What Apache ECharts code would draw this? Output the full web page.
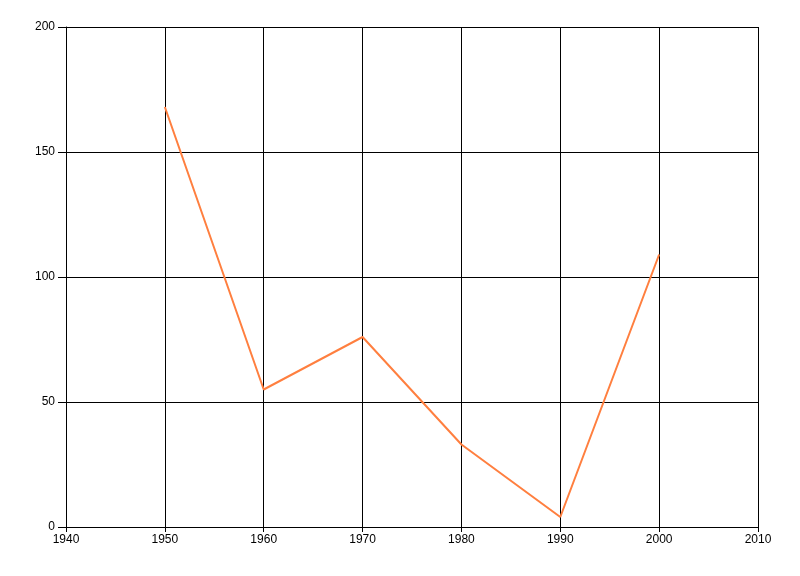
<!DOCTYPE html>
<html>
<head>
<meta charset="utf-8">
<script src="https://cdn.jsdelivr.net/npm/echarts@6/dist/echarts.min.js"></script>
<style>html,body{margin:0;padding:0;background:#fff}#c{width:800px;height:576px}</style>
</head>
<body>
<div id="c"></div>
<script>
var years = [1950, 1960, 1970, 1980, 1990, 2000];
var values = [168, 55, 76, 33, 4, 109];

var chart = echarts.init(document.getElementById('c'));
var font = {fontFamily: 'Liberation Sans, DejaVu Sans, sans-serif', fontSize: 12, color: '#000'};
chart.setOption({
  animation: false,
  grid: {left: 66, right: 42, top: 27, bottom: 49, containLabel: false},
  xAxis: {
    type: 'value', min: 1940, max: 2010, interval: 10,
    axisLine: {show: true, lineStyle: {color: '#000', width: 1}},
    axisTick: {show: true, length: 5, lineStyle: {color: '#000'}},
    axisLabel: Object.assign({margin: 7, formatter: function (v) { return String(v); }}, font),
    splitLine: {show: true, lineStyle: {color: '#000', width: 1}}
  },
  yAxis: {
    type: 'value', min: 0, max: 200, interval: 50,
    axisLine: {show: true, lineStyle: {color: '#000', width: 1}},
    axisTick: {show: true, length: 8, lineStyle: {color: '#000'}},
    axisLabel: Object.assign({margin: 11}, font),
    splitLine: {show: true, lineStyle: {color: '#000', width: 1}}
  },
  series: [{
    type: 'line',
    data: years.map(function (y, i) { return [y, values[i]]; }),
    showSymbol: false,
    lineStyle: {color: '#ff7f3f', width: 2},
    itemStyle: {color: '#ff7f3f'}
  }]
});
</script>
</body>
</html>
